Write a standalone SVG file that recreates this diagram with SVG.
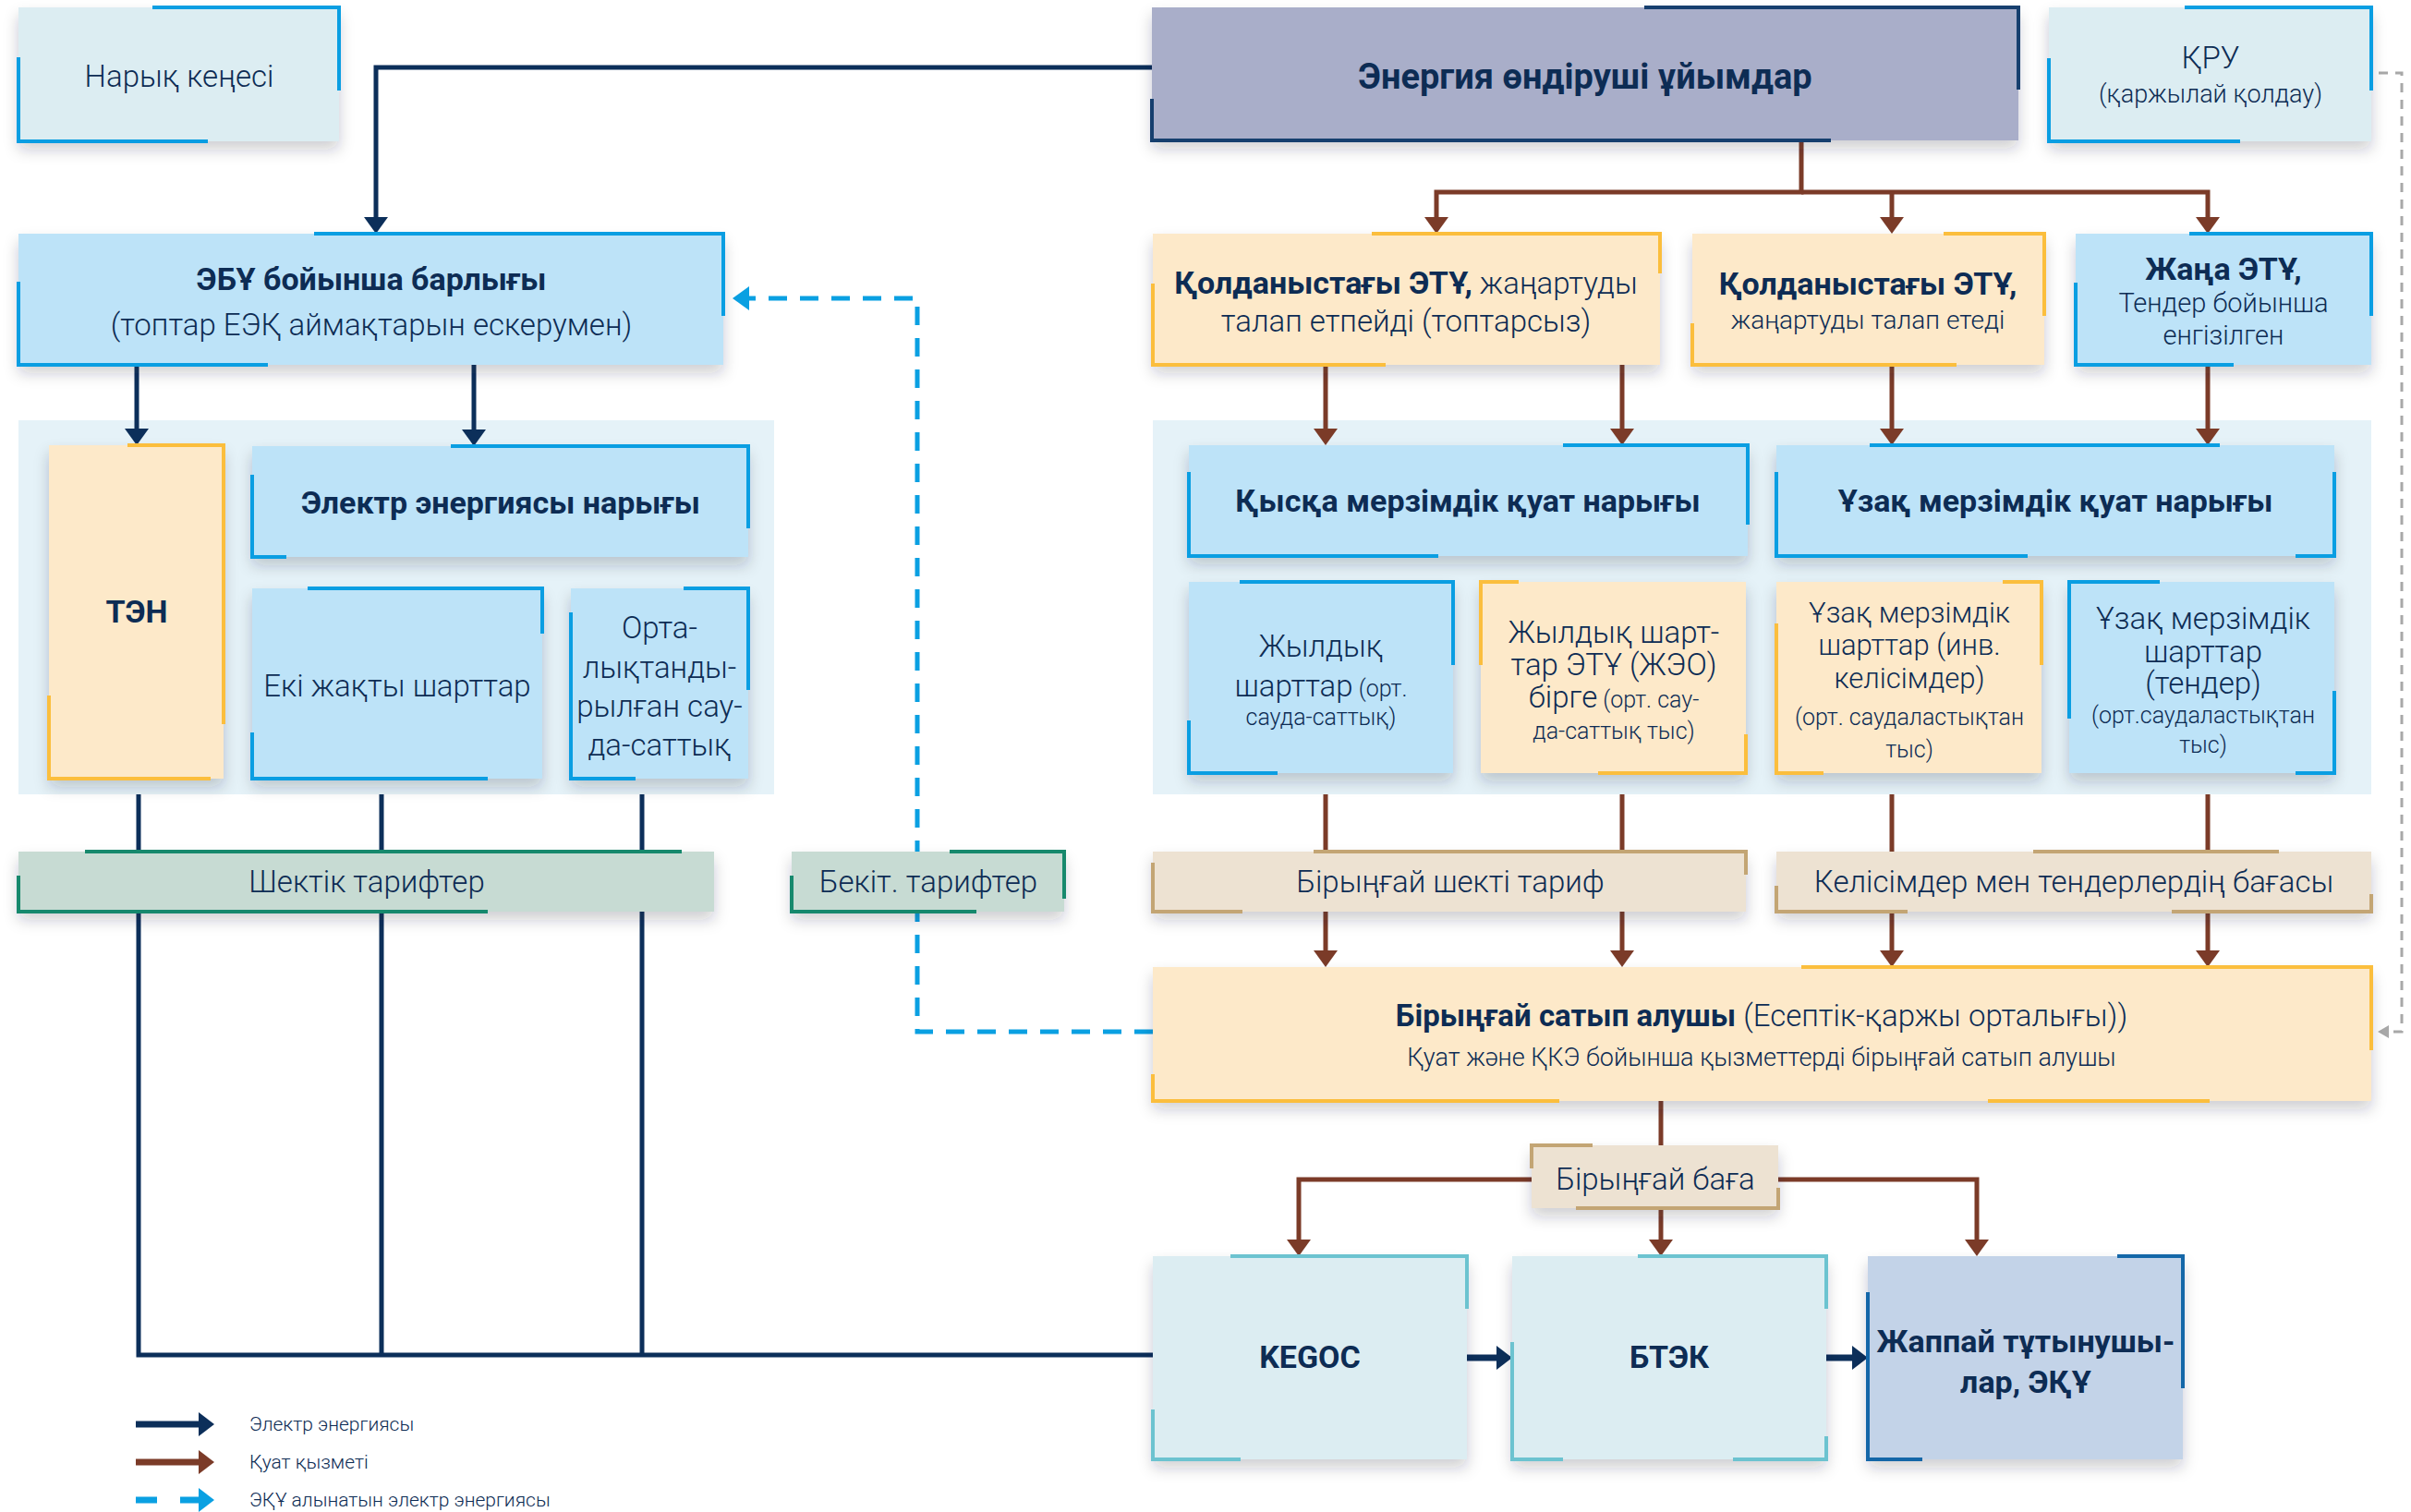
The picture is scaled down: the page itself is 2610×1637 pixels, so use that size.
<svg xmlns="http://www.w3.org/2000/svg" width="2610" height="1637" viewBox="0 0 2610 1637">
<defs>
<style>
text{font-family:Roboto,"Noto Sans","DejaVu Sans",sans-serif;fill:#0d2c54;text-anchor:middle}
.b{font-weight:700;font-size:34px}
.l{font-weight:300;font-size:33px}
.s{font-weight:300;font-size:25px}
.lg{font-weight:300;font-size:21px;text-anchor:start}
.panel{fill:#e5f2f8}
.box{filter:url(#sh)}
.f-cy{fill:#dcedf2}.f-bl{fill:#bde3f8}.f-pe{fill:#fde9c9}.f-gr{fill:#c7dbd3}.f-be{fill:#ede2d2}.f-lv{fill:#a9aec9}.f-jp{fill:#c3d3e8}
.ac{fill:none;stroke-width:4}
.a-bl{stroke:#0a9ee2}.a-ye{stroke:#fbbe3d}.a-gn{stroke:#17896d}.a-tn{stroke:#c3a574}.a-tl{stroke:#6cc3d0}.a-nv{stroke:#163f6e}.a-db{stroke:#1467a8}
.cn{fill:none;stroke:#0c2f5a;stroke-width:5}
.cbr{fill:none;stroke:#7b3b28;stroke-width:5}
.cbl{fill:none;stroke:#0aa0e2;stroke-width:5;stroke-dasharray:20 14}
.cgr{fill:none;stroke:#a8a8a8;stroke-width:3;stroke-dasharray:10 8}
.thick{stroke-width:7}
</style>
<filter id="sh" x="-10%" y="-20%" width="120%" height="160%">
<feDropShadow dx="0" dy="9" stdDeviation="8" flood-color="#1a2a3a" flood-opacity="0.22"/>
</filter>
<marker id="mN" viewBox="0 0 18 26" markerWidth="18" markerHeight="26" refX="8" refY="13" orient="auto" markerUnits="userSpaceOnUse"><path d="M0,0 L18,13 L0,26 Z" fill="#0c2f5a"/></marker>
<marker id="mB" viewBox="0 0 18 26" markerWidth="18" markerHeight="26" refX="8" refY="13" orient="auto" markerUnits="userSpaceOnUse"><path d="M0,0 L18,13 L0,26 Z" fill="#7b3b28"/></marker>
<marker id="mC" viewBox="0 0 18 26" markerWidth="18" markerHeight="26" refX="8" refY="13" orient="auto" markerUnits="userSpaceOnUse"><path d="M0,0 L18,13 L0,26 Z" fill="#0aa0e2"/></marker>
<marker id="mG" viewBox="0 0 12 14" markerWidth="12" markerHeight="14" refX="2" refY="7" orient="auto" markerUnits="userSpaceOnUse"><path d="M0,0 L12,7 L0,14 Z" fill="#a8a8a8"/></marker>
<marker id="mNL" viewBox="0 0 17 26" markerWidth="17" markerHeight="26" refX="0" refY="13" orient="auto" markerUnits="userSpaceOnUse"><path d="M0,0 L17,13 L0,26 Z" fill="#0c2f5a"/></marker>
<marker id="mBL" viewBox="0 0 17 26" markerWidth="17" markerHeight="26" refX="0" refY="13" orient="auto" markerUnits="userSpaceOnUse"><path d="M0,0 L17,13 L0,26 Z" fill="#7b3b28"/></marker>
<marker id="mCL" viewBox="0 0 17 26" markerWidth="17" markerHeight="26" refX="0" refY="13" orient="auto" markerUnits="userSpaceOnUse"><path d="M0,0 L17,13 L0,26 Z" fill="#0aa0e2"/></marker>
</defs>
<rect width="2610" height="1637" fill="#ffffff"/>

<g id="panels">
<rect class="panel" x="20" y="455" width="818" height="405"/>
<rect class="panel" x="1248" y="455" width="1319" height="405"/>
</g>

<g id="connectors">
<path class="cn" d="M1247,73 H407 V243" marker-end="url(#mN)"/>
<path class="cn" d="M148,395 V472" marker-end="url(#mN)"/>
<path class="cn" d="M513,395 V473" marker-end="url(#mN)"/>
<path class="cn" d="M150,860 V1467 H1248 M413,860 V1467 M695,860 V1467"/>
<path class="cn thick" d="M1588,1470 H1620" marker-end="url(#mNL)"/>
<path class="cn thick" d="M1977,1470 H2005" marker-end="url(#mNL)"/>
<path class="cbr" d="M1950,152 V208 H1555 V243" marker-end="url(#mB)"/>
<path class="cbr" d="M1950,208 H2390 V243" marker-end="url(#mB)"/>
<path class="cbr" d="M2048,208 V243" marker-end="url(#mB)"/>
<path class="cbr" d="M1435,395 V472" marker-end="url(#mB)"/>
<path class="cbr" d="M1756,395 V472" marker-end="url(#mB)"/>
<path class="cbr" d="M2048,395 V472" marker-end="url(#mB)"/>
<path class="cbr" d="M2390,395 V472" marker-end="url(#mB)"/>
<path class="cbr" d="M1435,860 V1037" marker-end="url(#mB)"/>
<path class="cbr" d="M1756,860 V1037" marker-end="url(#mB)"/>
<path class="cbr" d="M2048,860 V1037" marker-end="url(#mB)"/>
<path class="cbr" d="M2390,860 V1037" marker-end="url(#mB)"/>
<path class="cbr" d="M1798,1192 V1240"/>
<path class="cbr" d="M1658,1277 H1406 V1350" marker-end="url(#mB)"/>
<path class="cbr" d="M1798,1308 V1350" marker-end="url(#mB)"/>
<path class="cbr" d="M1925,1277 H2140 V1350" marker-end="url(#mB)"/>
<path class="cbl" d="M1248,1117 H993 V323 H803" marker-end="url(#mC)"/>
<path class="cgr" d="M2575,79 H2600 V1117 H2584" marker-end="url(#mG)"/>
</g>

<g id="n-naryq">
<rect class="box f-cy" x="20" y="8" width="347" height="145"/>
<path class="ac a-bl" d="M165,8 H367 V98 M20,62 V153 H225"/>
<text class="l" x="194" y="94">Нарық кеңесі</text>
</g>
<g id="n-energy">
<rect class="box f-lv" x="1247" y="8" width="938" height="144"/>
<path class="ac a-nv" d="M1780,8 H2185 V97 M1247,107 V152 H1982"/>
<text class="b" x="1716" y="96" style="font-size:38px">Энергия өндіруші ұйымдар</text>
</g>
<g id="n-kru">
<rect class="box f-cy" x="2218" y="8" width="349" height="145"/>
<path class="ac a-bl" d="M2365,8 H2567 V98 M2218,63 V153 H2425"/>
<text class="l" x="2393" y="74">ҚРУ</text>
<text class="l" x="2393" y="111" style="font-size:27px">(қаржылай қолдау)</text>
</g>
<g id="n-ebu">
<rect class="box f-bl" x="20" y="253" width="763" height="142"/>
<path class="ac a-bl" d="M340,253 H783 V342 M20,305 V395 H290"/>
<text class="b" x="402" y="314">ЭБҰ бойынша барлығы</text>
<text class="l" x="402" y="363">(топтар ЕЭҚ аймақтарын ескерумен)</text>
</g>
<g id="n-ten">
<rect class="box f-pe" x="53" y="482" width="189" height="361"/>
<path class="ac a-ye" d="M138,482 H242 V784 M53,753 V843 H228"/>
<text class="b" x="148" y="674">ТЭН</text>
</g>
<g id="n-elmarket">
<rect class="box f-bl" x="273" y="483" width="537" height="120"/>
<path class="ac a-bl" d="M488,483 H810 V572 M273,514 V603 H310"/>
<text class="b" x="542" y="556">Электр энергиясы нарығы</text>
</g>
<g id="n-eki">
<rect class="box f-bl" x="273" y="637" width="314" height="206"/>
<path class="ac a-bl" d="M333,637 H587 V686 M273,793 V843 H528"/>
<text class="l" x="430" y="754">Екі жақты шарттар</text>
</g>
<g id="n-orta">
<rect class="box f-bl" x="618" y="637" width="192" height="206"/>
<path class="ac a-bl" d="M740,637 H810 V747 M618,663 V843 H688"/>
<text class="l" x="714" y="691">Орта-</text>
<text class="l" x="714" y="734">лықтанды-</text>
<text class="l" x="714" y="776">рылған сау-</text>
<text class="l" x="714" y="818">да-саттық</text>
</g>
<g id="n-shektik">
<rect class="box f-gr" x="20" y="922" width="753" height="65"/>
<path class="ac a-gn" d="M92,922 H738 M20,948 V987 H528"/>
<text class="l" x="397" y="966">Шектік тарифтер</text>
</g>
<g id="n-bekit">
<rect class="box f-gr" x="857" y="922" width="295" height="65"/>
<path class="ac a-gn" d="M1028,922 H1152 V973 M857,948 V987 H1057"/>
<text class="l" x="1005" y="966">Бекіт. тарифтер</text>
</g>
<g id="n-etu1">
<rect class="box f-pe" x="1248" y="253" width="549" height="142"/>
<path class="ac a-ye" d="M1485,253 H1797 V296 M1248,307 V395 H1500"/>
<text x="1522" y="318"><tspan class="b">Қолданыстағы ЭТҰ,</tspan><tspan class="l"> жаңартуды</tspan></text>
<text class="l" x="1522" y="359">талап етпейді (топтарсыз)</text>
</g>
<g id="n-etu2">
<rect class="box f-pe" x="1832" y="253" width="381" height="142"/>
<path class="ac a-ye" d="M2104,253 H2213 V342 M1832,350 V395 H2118"/>
<text class="b" x="2022" y="319">Қолданыстағы ЭТҰ,</text>
<text class="l" x="2022" y="356" style="font-size:28px">жаңартуды талап етеді</text>
</g>
<g id="n-etu3">
<rect class="box f-bl" x="2247" y="253" width="320" height="142"/>
<path class="ac a-bl" d="M2370,253 H2567 V342 M2247,306 V395 H2418"/>
<text class="b" x="2407" y="303">Жаңа ЭТҰ,</text>
<text class="l" x="2407" y="338" style="font-size:29px">Тендер бойынша</text>
<text class="l" x="2407" y="373" style="font-size:29px">енгізілген</text>
</g>
<g id="n-short">
<rect class="box f-bl" x="1287" y="482" width="605" height="120"/>
<path class="ac a-bl" d="M1692,482 H1892 V568 M1287,511 V602 H1557"/>
<text class="b" x="1589" y="554">Қысқа мерзімдік қуат нарығы</text>
</g>
<g id="n-long">
<rect class="box f-bl" x="1923" y="482" width="604" height="120"/>
<path class="ac a-bl" d="M2024,482 H2403 M1923,511 V602 H2195 M2527,511 V602 H2485"/>
<text class="b" x="2225" y="554">Ұзақ мерзімдік қуат нарығы</text>
</g>
<g id="n-zhyl1">
<rect class="box f-bl" x="1287" y="630" width="286" height="207"/>
<path class="ac a-bl" d="M1342,630 H1573 V720 M1287,780 V837 H1383"/>
<text class="l" x="1430" y="711">Жылдық</text>
<text x="1430" y="754"><tspan class="l">шарттар</tspan><tspan class="s"> (орт.</tspan></text>
<text class="s" x="1430" y="785">сауда-саттық)</text>
</g>
<g id="n-zhyl2">
<rect class="box f-pe" x="1603" y="630" width="287" height="207"/>
<path class="ac a-ye" d="M1603,720 V630 H1644 M1890,795 V837 H1730"/>
<text class="l" x="1747" y="696">Жылдық шарт-</text>
<text class="l" x="1747" y="731">тар ЭТҰ (ЖЭО)</text>
<text x="1747" y="766"><tspan class="l">бірге</tspan><tspan class="s"> (орт. сау-</tspan></text>
<text class="s" x="1747" y="800">да-саттық тыс)</text>
</g>
<g id="n-uzaq1">
<rect class="box f-pe" x="1923" y="630" width="287" height="207"/>
<path class="ac a-ye" d="M2168,630 H2210 V720 M1923,675 V837 H1974"/>
<text class="l" x="2067" y="674" style="font-size:31px">Ұзақ мерзімдік</text>
<text class="l" x="2067" y="709" style="font-size:31px">шарттар (инв.</text>
<text class="l" x="2067" y="745" style="font-size:31px">келісімдер)</text>
<text class="s" x="2067" y="785">(орт. саудаластықтан</text>
<text class="s" x="2067" y="820">тыс)</text>
</g>
<g id="n-uzaq2">
<rect class="box f-bl" x="2240" y="630" width="287" height="207"/>
<path class="ac a-bl" d="M2240,778 V630 H2338 M2527,748 V837 H2485"/>
<text class="l" x="2385" y="681">Ұзақ мерзімдік</text>
<text class="l" x="2385" y="717">шарттар</text>
<text class="l" x="2385" y="751">(тендер)</text>
<text class="s" x="2385" y="783">(орт.саудаластықтан</text>
<text class="s" x="2385" y="815">тыс)</text>
</g>
<g id="n-birtarif">
<rect class="box f-be" x="1248" y="922" width="642" height="65"/>
<path class="ac a-tn" d="M1422,922 H1890 V947 M1248,934 V987 H1345"/>
<text class="l" x="1570" y="966">Бірыңғай шекті тариф</text>
</g>
<g id="n-kelisim">
<rect class="box f-be" x="1923" y="922" width="644" height="65"/>
<path class="ac a-tn" d="M2201,922 H2467 M1923,959 V987 H2065 M2567,968 V987 H2351"/>
<text class="l" x="2245" y="966">Келісімдер мен тендерлердің бағасы</text>
</g>
<g id="n-buyer">
<rect class="box f-pe" x="1248" y="1047" width="1319" height="145"/>
<path class="ac a-ye" d="M1950,1047 H2567 V1137 M1248,1163 V1192 H1688 M2152,1192 H2392"/>
<text x="1907" y="1111"><tspan class="b" style="font-size:33px">Бірыңғай сатып алушы</tspan><tspan class="l"> (Есептік-қаржы орталығы))</tspan></text>
<text class="l" x="1907" y="1154" style="font-size:27px">Қуат және ҚКЭ бойынша қызметтерді бірыңғай сатып алушы</text>
</g>
<g id="n-price">
<rect class="box f-be" x="1658" y="1240" width="267" height="68"/>
<path class="ac a-tn" d="M1658,1265 V1240 H1724 M1925,1286 V1308 H1706"/>
<text class="l" x="1792" y="1288">Бірыңғай баға</text>
</g>
<g id="n-kegoc">
<rect class="box f-cy" x="1248" y="1360" width="340" height="220"/>
<path class="ac a-tl" d="M1332,1360 H1588 V1417 M1248,1526 V1580 H1343"/>
<text class="b" x="1418" y="1481">KEGOC</text>
</g>
<g id="n-btek">
<rect class="box f-cy" x="1637" y="1360" width="340" height="220"/>
<path class="ac a-tl" d="M1773,1360 H1977 V1417 M1637,1453 V1580 H1692 M1977,1555 V1580 H1876"/>
<text class="b" x="1807" y="1481">БТЭК</text>
</g>
<g id="n-consumers">
<rect class="box f-jp" x="2022" y="1360" width="341" height="220"/>
<path class="ac a-db" d="M2292,1360 H2363 V1503 M2022,1399 V1580 H2081"/>
<text class="b" x="2193" y="1464">Жаппай тұтынушы-</text>
<text class="b" x="2193" y="1508">лар, ЭҚҰ</text>
</g>

<g id="legend">
<path class="cn thick" d="M147,1542 H215" marker-end="url(#mNL)"/>
<path class="cbr thick" d="M147,1583 H215" marker-end="url(#mBL)"/>
<path fill="none" stroke="#0aa0e2" stroke-width="7" d="M147,1624 H170 M195,1624 H215" marker-end="url(#mCL)"/>
<text class="lg" x="270" y="1549">Электр энергиясы</text>
<text class="lg" x="270" y="1590">Қуат қызметі</text>
<text class="lg" x="270" y="1631">ЭҚҰ алынатын электр энергиясы</text>
</g>
</svg>
